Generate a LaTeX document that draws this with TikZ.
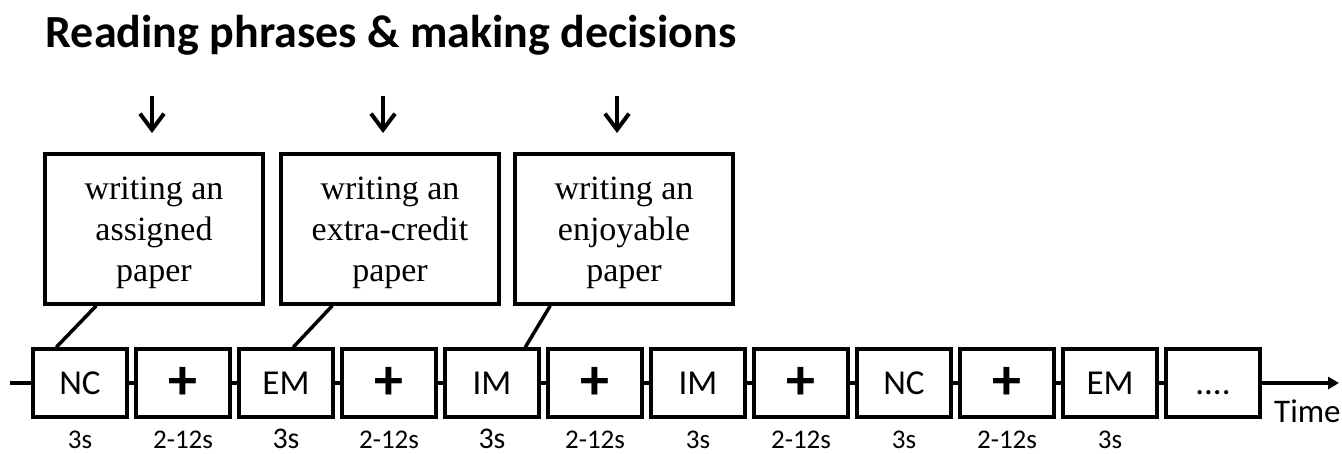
\documentclass[tikz,border=0pt]{standalone}
\usepackage{fontspec}
\setmainfont{Liberation Serif}
\newfontfamily\calfont{Carlito}
\usetikzlibrary{arrows.meta}
\begin{document}
\begin{tikzpicture}[x=1pt,y=-1pt,
  tbox/.style={draw,line width=3.5pt,minimum width=94pt,minimum height=68pt,inner sep=0pt,text height=22pt,text depth=0pt,font=\calfont\fontsize{35}{35}\selectfont},
  plusbox/.style={draw,line width=3.5pt,minimum width=94pt,minimum height=68pt,inner sep=0pt,font=\calfont\bfseries\fontsize{58}{58}\selectfont},
  ubox/.style={draw,line width=3.5pt,minimum width=218pt,minimum height=150pt,inner sep=0pt,align=center,font=\fontsize{34}{41}\selectfont},
  dur/.style={anchor=base,inner sep=0pt,font=\calfont\fontsize{27}{27}\selectfont},
  durbig/.style={anchor=base,inner sep=0pt,font=\calfont\fontsize{30}{30}\selectfont},
  conn/.style={line width=3.5pt},
  darrow/.style={line width=3.5pt,-{Straight Barb[length=16pt,width=24pt,line width=4pt]}}
]
\useasboundingbox (0,0) rectangle (1342,453);
\node[anchor=base,font=\calfont\bfseries\fontsize{46}{46}\selectfont] (title) at (391,47) {Reading phrases \& making decisions};

% timeline boxes
\node[tbox] (b0) at (80,383) {NC};
\node[plusbox] (b1) at (183,383) {+};
\node[tbox] (b2) at (286,383) {EM};
\node[plusbox] (b3) at (389,383) {+};
\node[tbox] (b4) at (492,383) {IM};
\node[plusbox] (b5) at (595,383) {+};
\node[tbox] (b6) at (698,383) {IM};
\node[plusbox] (b7) at (801,383) {+};
\node[tbox] (b8) at (904,383) {NC};
\node[plusbox] (b9) at (1007,383) {+};
\node[tbox] (b10) at (1110,383) {EM};
\node[tbox] (b11) at (1213,383) {....};

\coordinate (start) at (10,383);
\coordinate (tend) at (1339,383);
\draw[conn] (start) -- (b0.west);
\foreach \i/\j in {0/1,1/2,2/3,3/4,4/5,5/6,6/7,7/8,8/9,9/10,10/11}{
  \draw[conn] (b\i.east) -- (b\j.west);
}
\draw[line width=3.5pt,-{Triangle[length=11pt,width=12pt]}] (b11.east) -- (tend);
\node[anchor=base west,inner sep=0pt,font=\calfont\fontsize{33}{33}\selectfont] (time) at (1274,422) {Time};

% durations
\node[dur] (d0) at (80,448) {3s};
\node[dur] (d1) at (183,448) {2-12s};
\node[durbig] (d2) at (286,448) {3s};
\node[dur] (d3) at (389,448) {2-12s};
\node[durbig] (d4) at (492,448) {3s};
\node[dur] (d5) at (595,448) {2-12s};
\node[dur] (d6) at (698,448) {3s};
\node[dur] (d7) at (801,448) {2-12s};
\node[dur] (d8) at (904,448) {3s};
\node[dur] (d9) at (1007,448) {2-12s};
\node[dur] (d10) at (1110,448) {3s};

% upper boxes
\node[ubox] (u1) at (154,229) {\raisebox{0pt}[32pt][0pt]{}writing an\\assigned\\paper\raisebox{0pt}[0pt][10pt]{}};
\node[ubox] (u2) at (390,229) {\raisebox{0pt}[32pt][0pt]{}writing an\\extra-credit\\paper\raisebox{0pt}[0pt][10pt]{}};
\node[ubox] (u3) at (624,229) {\raisebox{0pt}[32pt][0pt]{}writing an\\enjoyable\\paper\raisebox{0pt}[0pt][10pt]{}};

\draw[conn] ([xshift=53pt]u1.south west) -- ([xshift=25pt]b0.north west);
\draw[conn] ([xshift=53pt]u2.south west) -- ([xshift=56pt]b2.north west);
\draw[conn] ([xshift=37pt]u3.south west) -- ([xshift=82pt]b4.north west);

% down arrows
\coordinate (a1s) at (152,96); \coordinate (a1e) at (152,133);
\coordinate (a2s) at (383,96); \coordinate (a2e) at (383,133);
\coordinate (a3s) at (617,96); \coordinate (a3e) at (617,133);
\draw[darrow] (a1s) -- (a1e);
\draw[darrow] (a2s) -- (a2e);
\draw[darrow] (a3s) -- (a3e);
\end{tikzpicture}
\end{document}
